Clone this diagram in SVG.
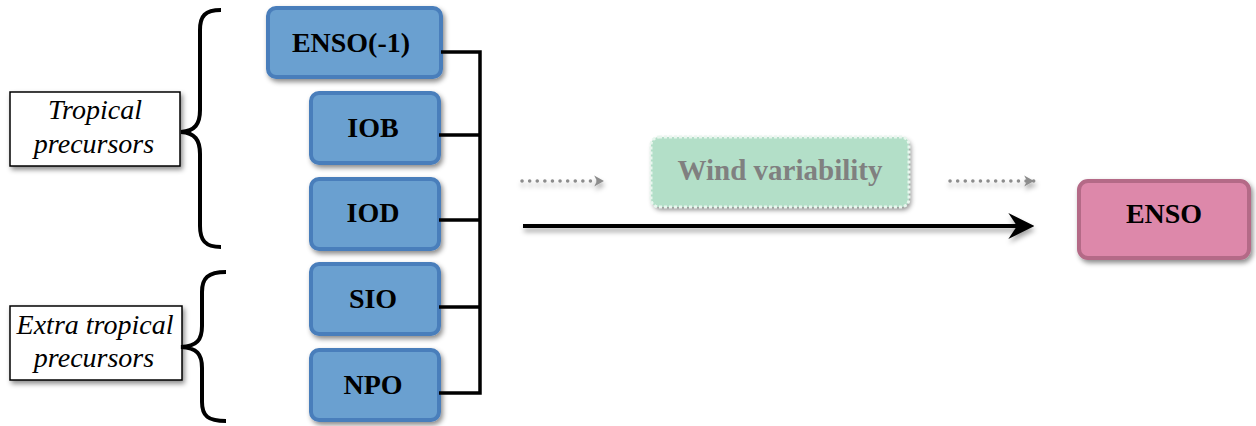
<svg xmlns="http://www.w3.org/2000/svg" width="1256" height="426" viewBox="0 0 1256 426">
<defs>
<filter id="sh" x="-20%" y="-20%" width="140%" height="150%">
<feDropShadow dx="2" dy="3" stdDeviation="2.5" flood-color="#000" flood-opacity="0.45"/>
</filter>
<filter id="lsh" filterUnits="userSpaceOnUse" x="0" y="0" width="1256" height="426">
<feDropShadow dx="1" dy="4" stdDeviation="2.5" flood-color="#000" flood-opacity="0.35"/>
</filter>
<marker id="ah" viewBox="0 0 12 12" refX="10" refY="6" markerWidth="26" markerHeight="26" markerUnits="userSpaceOnUse" orient="auto">
<path d="M0,0 L12,6 L0,12 L4,6 Z" fill="#000"/>
</marker>
<marker id="ahg" viewBox="0 0 10 10" refX="8" refY="5" markerWidth="14" markerHeight="14" markerUnits="userSpaceOnUse" orient="auto">
<path d="M1,1 L8,5 L1,9 L3,5 Z" fill="#8c8c8c"/>
</marker>
</defs>
<style>
.blue rect{fill:#6aa0d0;stroke:#4a7ebb;stroke-width:4;filter:url(#sh)}
.lbl{font-family:"Liberation Serif",serif;font-weight:bold;font-size:28px;fill:#000;text-anchor:middle}
.ital{font-family:"Liberation Serif",serif;font-style:italic;font-size:28px;fill:#000;text-anchor:middle}
.brace{fill:none;stroke:#000;stroke-width:4;stroke-linecap:butt}
.lbox{fill:#fff;stroke:#000;stroke-width:1.5;filter:url(#sh)}
.conn{fill:none;stroke:#000;stroke-width:3.5}
.dot{stroke:#8c8c8c;stroke-width:3.5;stroke-dasharray:0.1 7.5;stroke-linecap:round}
</style>

<g id="tropical-label">
<rect class="lbox" x="10" y="92" width="170" height="74"/>
<text class="ital" x="95" y="119">Tropical</text>
<text class="ital" x="94" y="153">precursors</text>
</g>
<g id="tropical-brace">
<path class="brace" d="M221,10 C205,10 200,16 200,30 L200,110 C200,124 195,131 181,132 C195,133 200,140 200,154 L200,226 C200,240 205,247 221,247"/>
</g>

<g id="extra-label">
<rect class="lbox" x="10" y="306" width="172" height="74"/>
<text class="ital" x="95" y="334">Extra tropical</text>
<text class="ital" x="94" y="367">precursors</text>
</g>
<g id="extra-brace">
<path class="brace" d="M226,272 C208,272 202,278 202,292 L202,326 C202,340 197,346 181,347 C197,348 202,354 202,368 L202,402 C202,416 208,421 226,421"/>
</g>

<g id="enso-1" class="blue">
<rect x="268" y="8" width="173" height="69" rx="8"/>
<text class="lbl" x="351" y="52">ENSO(-1)</text>
</g>
<g id="iob" class="blue">
<rect x="311" y="93" width="128" height="70" rx="8"/>
<text class="lbl" x="373" y="137">IOB</text>
</g>
<g id="iod" class="blue">
<rect x="311" y="179" width="128" height="70" rx="8"/>
<text class="lbl" x="373" y="222">IOD</text>
</g>
<g id="sio" class="blue">
<rect x="311" y="264" width="128" height="70" rx="8"/>
<text class="lbl" x="373" y="308">SIO</text>
</g>
<g id="npo" class="blue">
<rect x="311" y="350" width="128" height="70" rx="8"/>
<text class="lbl" x="373" y="394">NPO</text>
</g>

<g id="connectors">
<path class="conn" d="M441,52 L480,52 L480,393 L439,393"/>
<path class="conn" d="M439,135 L480,135"/>
<path class="conn" d="M439,220 L480,220"/>
<path class="conn" d="M439,307 L480,307"/>
<line class="dot" x1="522" y1="181" x2="604" y2="181" marker-end="url(#ahg)" filter="url(#lsh)"/>
<line class="dot" x1="950" y1="181" x2="1034" y2="181" marker-end="url(#ahg)" filter="url(#lsh)"/>
<line x1="523" y1="226" x2="1030" y2="226" stroke="#000" stroke-width="4" marker-end="url(#ah)" filter="url(#lsh)"/>
</g>

<g id="wind">
<rect x="651" y="137" width="258" height="70" rx="8" fill="#b3dfc8" filter="url(#sh)"/>
<rect x="651" y="137" width="258" height="70" rx="8" fill="none" stroke="#e8f6ee" stroke-width="3" stroke-dasharray="3 2"/>
<text x="780" y="180" font-family="Liberation Serif, serif" font-weight="bold" font-size="29" fill="#808080" text-anchor="middle">Wind variability</text>
</g>

<g id="enso">
<rect x="1079" y="181" width="170" height="77" rx="9" fill="#dd88aa" stroke="#b46a87" stroke-width="4" filter="url(#sh)"/>
<text class="lbl" x="1164" y="223">ENSO</text>
</g>
</svg>
